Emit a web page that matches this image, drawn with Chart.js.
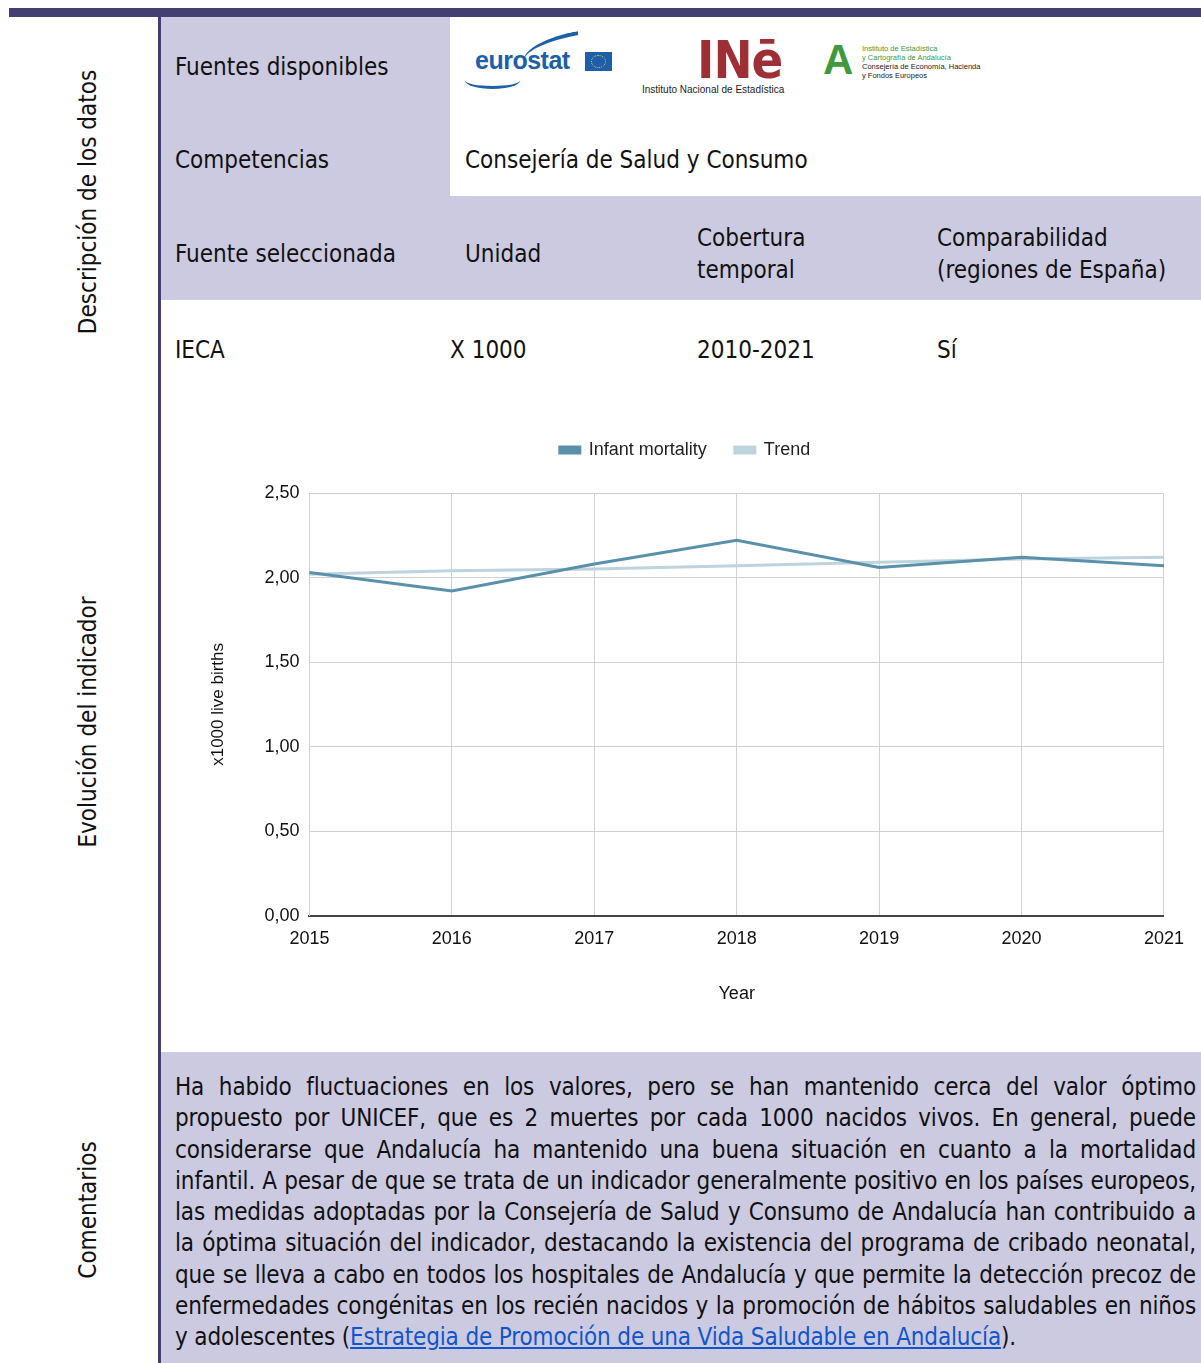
<!DOCTYPE html>
<html>
<head>
<meta charset="utf-8">
<script src="https://cdn.jsdelivr.net/npm/chart.js@4.4.1/dist/chart.umd.min.js"></script>
<style>
  html, body { margin: 0; padding: 0; background: #fff; }
  body { width: 1201px; height: 1363px; position: relative; overflow: hidden;
         font-family: "DejaVu Sans Condensed", "Liberation Sans Narrow", "Noto Sans", sans-serif; color: #111; }
  .abs { position: absolute; }
  .lav { background: #cccae0; }
  .txt { font-size: 24px; white-space: nowrap; }
  .side { position: absolute; left: 88px; font-size: 24px; white-space: nowrap;
          transform: translate(-50%, -50%) rotate(-90deg); }
  #comments { left: 175px; top: 1072px; width: 1021px; font-size: 24px; line-height: 31.3px; letter-spacing: -0.15px; }
  #comments div { text-align: justify; text-align-last: justify; white-space: nowrap; }
  #comments div.last { text-align-last: left; }
  #comments a { color: #1155cc; text-decoration: underline; }
</style>
</head>
<body>
<div class="abs" style="left:9px;top:8px;width:1192px;height:9px;background:#433f71"></div>
<div class="abs" style="left:158px;top:17px;width:3px;height:1346px;background:#433f71"></div>

<div class="side" style="top:202px">Descripción de los datos</div>
<div class="side" style="top:722px">Evolución del indicador</div>
<div class="side" style="top:1210px">Comentarios</div>

<div class="abs lav" style="left:161px;top:17px;width:289px;height:283px"></div>
<div class="abs lav" style="left:450px;top:196px;width:751px;height:104px"></div>
<div class="abs lav" style="left:161px;top:1052px;width:1040px;height:311px"></div>

<div class="abs txt" style="left:175px;top:53px">Fuentes disponibles</div>
<div class="abs txt" style="left:175px;top:146px">Competencias</div>
<div class="abs txt" style="left:465px;top:146px">Consejería de Salud y Consumo</div>

<div class="abs txt" style="left:175px;top:240px">Fuente seleccionada</div>
<div class="abs txt" style="left:465px;top:240px">Unidad</div>
<div class="abs txt" style="left:697px;top:223px;line-height:31.5px">Cobertura<br>temporal</div>
<div class="abs txt" style="left:937px;top:223px;line-height:31.5px">Comparabilidad<br>(regiones de España)</div>

<div class="abs txt" style="left:175px;top:336px">IECA</div>
<div class="abs txt" style="left:450px;top:336px">X 1000</div>
<div class="abs txt" style="left:697px;top:336px">2010-2021</div>
<div class="abs txt" style="left:937px;top:336px">Sí</div>

<!-- logos as text -->
<div class="abs" style="left:522px;top:36px;width:58px;height:16px;border-top:4px solid #1d5fa8;border-radius:100% 0 0 0;transform:rotate(-10deg)"></div>
<div class="abs" style="left:475px;top:46px;font-family:'Liberation Sans',Arial,sans-serif;font-weight:bold;font-size:25px;color:#1d5fa8;letter-spacing:-0.5px">eurostat</div>
<div class="abs" style="left:585px;top:52px;width:27px;height:19px;background:#1d5fa8"></div>
<div class="abs" style="left:591px;top:55px;width:13px;height:11px;border:1px dotted #f3d34a;border-radius:50%"></div>
<div class="abs" style="left:465px;top:72px;width:55px;height:14px;border-bottom:3px solid #1d5fa8;border-radius:0 0 60% 60%"></div>
<div class="abs" style="left:697px;top:32px;font-family:'DejaVu Sans Condensed','Liberation Sans',sans-serif;font-weight:bold;font-size:52px;line-height:56px;color:#9e2f35;letter-spacing:-1px">INē</div>
<div class="abs" style="left:642px;top:84px;font-family:'Liberation Sans',Arial,sans-serif;font-size:10px;color:#222">Instituto Nacional de Estadística</div>
<div class="abs" style="left:823px;top:38px;font-family:'Liberation Sans',Arial,sans-serif;font-weight:bold;font-size:42px;line-height:44px;color:#3e9a3c">A</div>
<div class="abs" style="left:862px;top:44px;font-family:'Liberation Sans',Arial,sans-serif;font-size:7.5px;line-height:9px;color:#3e9a3c">Instituto de Estadística<br>y Cartografía de Andalucía<br><span style="color:#222">Consejería de Economía, Hacienda<br>y Fondos Europeos</span></div>

<div class="abs" style="left:176px;top:413px;width:1020px;height:596px">
  <canvas id="chart"></canvas>
</div>

<div id="comments" class="abs">
  <div>Ha habido fluctuaciones en los valores, pero se han mantenido cerca del valor óptimo</div>
  <div>propuesto por UNICEF, que es 2 muertes por cada 1000 nacidos vivos. En general, puede</div>
  <div>considerarse que Andalucía ha mantenido una buena situación en cuanto a la mortalidad</div>
  <div>infantil. A pesar de que se trata de un indicador generalmente positivo en los países europeos,</div>
  <div>las medidas adoptadas por la Consejería de Salud y Consumo de Andalucía han contribuido a</div>
  <div>la óptima situación del indicador, destacando la existencia del programa de cribado neonatal,</div>
  <div>que se lleva a cabo en todos los hospitales de Andalucía y que permite la detección precoz de</div>
  <div>enfermedades congénitas en los recién nacidos y la promoción de hábitos saludables en niños</div>
  <div class="last">y adolescentes (<a href="#">Estrategia de Promoción de una Vida Saludable en Andalucía</a>).</div>
</div>

<script>
const years = ['2015', '2016', '2017', '2018', '2019', '2020', '2021'];
const infantMortality = [2.03, 1.92, 2.08, 2.22, 2.06, 2.12, 2.07];
const trend = [2.02, 2.04, 2.05, 2.07, 2.09, 2.11, 2.12];
const yTicks = [0, 0.5, 1, 1.5, 2, 2.5];

const chartFont = { family: "'Liberation Sans', Arial, sans-serif", size: 18 };

// extra room below the legend
const legendMargin = {
    id: 'legendMargin',
    beforeInit(chart) {
        const fit = chart.legend.fit;
        chart.legend.fit = function() {
            fit.bind(chart.legend)();
            this.height += 24;
        };
    }
};

new Chart(document.getElementById('chart'), {
    type: 'line',
    data: {
        labels: years,
        datasets: [{
            label: 'Infant mortality',
            data: infantMortality,
            borderColor: '#5a90ab',
            backgroundColor: '#5a90ab',
            borderWidth: 3,
            pointRadius: 0,
            tension: 0
        }, {
            label: 'Trend',
            data: trend,
            borderColor: '#bdd4df',
            backgroundColor: '#bdd4df',
            borderWidth: 3,
            pointRadius: 0,
            tension: 0
        }]
    },
    plugins: [legendMargin],
    options: {
        responsive: true,
        maintainAspectRatio: false,
        animation: false,
        layout: { padding: { left: 10, right: 12, top: 0, bottom: 0 } },
        plugins: {
            legend: {
                position: 'top',
                labels: {
                    boxWidth: 20,
                    boxHeight: 6,
                    padding: 28,
                    color: '#222',
                    font: chartFont
                }
            },
            tooltip: { enabled: false }
        },
        scales: {
            x: {
                offset: false,
                grid: { color: '#d0d0d0', drawTicks: false },
                border: { color: '#444', width: 2 },
                ticks: { color: '#111', font: chartFont, padding: 12, maxRotation: 0 },
                title: { display: true, text: 'Year', color: '#111', font: chartFont, padding: { top: 22 } }
            },
            y: {
                min: 0,
                max: 2.5,
                afterBuildTicks: function(axis) {
                    axis.ticks = yTicks.map(v => ({ value: v }));
                },
                grid: { color: '#d0d0d0', drawTicks: false },
                border: { color: '#d0d0d0' },
                ticks: {
                    color: '#111',
                    font: chartFont,
                    padding: 10,
                    callback: function(value) {
                        return value.toFixed(2).replace('.', ',');
                    }
                },
                title: { display: true, text: 'x1000 live births', color: '#111',
                         font: { family: chartFont.family, size: 17 }, padding: { top: 22, bottom: 26 } }
            }
        }
    }
});
</script>
</body>
</html>
